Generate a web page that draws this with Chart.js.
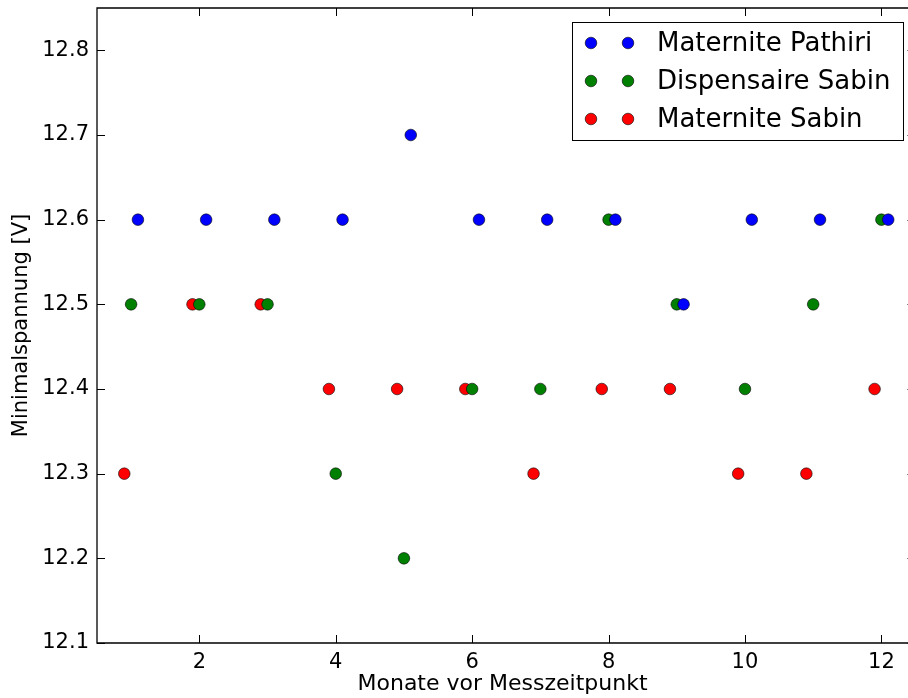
<!DOCTYPE html>
<html>
<head>
<meta charset="utf-8">
<title>Minimalspannung</title>
<script src="https://cdn.jsdelivr.net/npm/chart.js@4.4.1/dist/chart.umd.min.js"></script>
<style>
  html, body { margin: 0; padding: 0; background: #fff; overflow: hidden; }
  #chartWrap { width: 908px; height: 698px; }
</style>
</head>
<body>
<div id="chartWrap"><canvas id="voltChart" width="908" height="698"></canvas></div>
<script>
  // Data
  const pathiriX = [1.1, 2.1, 3.1, 4.1, 5.1, 6.1, 7.1, 8.1, 9.1, 10.1, 11.1, 12.1];
  const pathiriY = [12.6, 12.6, 12.6, 12.6, 12.7, 12.6, 12.6, 12.6, 12.5, 12.6, 12.6, 12.6];

  const dispSabinX = [1, 2, 3, 4, 5, 6, 7, 8, 9, 10, 11, 12];
  const dispSabinY = [12.5, 12.5, 12.5, 12.3, 12.2, 12.4, 12.4, 12.6, 12.5, 12.4, 12.5, 12.6];

  const matSabinX = [0.9, 1.9, 2.9, 3.9, 4.9, 5.9, 6.9, 7.9, 8.9, 9.9, 10.9, 11.9];
  const matSabinY = [12.3, 12.5, 12.5, 12.4, 12.4, 12.4, 12.3, 12.4, 12.4, 12.3, 12.3, 12.4];

  const seriesNames = ['Maternite Pathiri', 'Dispensaire Sabin', 'Maternite Sabin'];
  const seriesColors = ['#0000ff', '#008000', '#ff0000'];

  const xTickValues = [2, 4, 6, 8, 10, 12];
  const yTickValues = [12.1, 12.2, 12.3, 12.4, 12.5, 12.6, 12.7, 12.8];

  // the original axes run to 12.5 but the picture is cropped a little before that
  const xSpineRight = 12.5;
  const xVisibleMax = 12.39;

  const FONT = "'DejaVu Sans', 'Liberation Sans', sans-serif";

  function toPoints(xs, ys) {
    return xs.map((x, i) => ({ x: x, y: ys[i] }));
  }

  function makeDataset(idx, xs, ys) {
    return {
      label: seriesNames[idx],
      data: toPoints(xs, ys),
      backgroundColor: seriesColors[idx],
      borderColor: 'rgba(0,0,0,0.85)',
      borderWidth: 0.7,
      pointRadius: 5.8,
      pointHoverRadius: 5.8,
      showLine: false
    };
  }

  // matplotlib-style frame: inward ticks on all four sides
  const frameTicks = {
    id: 'frameTicks',
    afterDraw(chart) {
      const ctx = chart.ctx;
      const area = chart.chartArea;
      const xs = chart.scales.x;
      const ys = chart.scales.y;
      const rightPx = xs.getPixelForValue(xSpineRight);
      const len = 8;
      ctx.save();
      ctx.strokeStyle = '#000';
      ctx.lineWidth = 1;
      ctx.beginPath();
      xTickValues.forEach(v => {
        const px = Math.round(xs.getPixelForValue(v)) + 0.5;
        ctx.moveTo(px, area.bottom);
        ctx.lineTo(px, area.bottom - len);
        ctx.moveTo(px, area.top);
        ctx.lineTo(px, area.top + len);
      });
      yTickValues.forEach(v => {
        const py = Math.round(ys.getPixelForValue(v)) + 0.5;
        ctx.moveTo(area.left, py);
        ctx.lineTo(area.left + len, py);
        ctx.moveTo(rightPx, py);
        ctx.lineTo(rightPx - len, py);
      });
      ctx.stroke();

      ctx.lineWidth = 1.3;
      ctx.beginPath();
      ctx.moveTo(rightPx, area.top);
      ctx.lineTo(area.left, area.top);
      ctx.lineTo(area.left, area.bottom);
      ctx.lineTo(rightPx, area.bottom);
      ctx.stroke();
      ctx.restore();
    }
  };

  // legend with two markers per entry, like the original
  const pairLegend = {
    id: 'pairLegend',
    afterDraw(chart) {
      const ctx = chart.ctx;
      const box = { x: 572.5, y: 22.5, w: 331, h: 118 };
      const rowY = [43, 81, 119];
      ctx.save();
      ctx.fillStyle = '#fff';
      ctx.fillRect(box.x, box.y, box.w, box.h);
      ctx.strokeStyle = '#000';
      ctx.lineWidth = 1;
      ctx.strokeRect(box.x, box.y, box.w, box.h);
      chart.data.datasets.forEach((ds, i) => {
        const y = rowY[i];
        [591, 628].forEach(cx => {
          ctx.beginPath();
          ctx.arc(cx, y, 5.8, 0, Math.PI * 2);
          ctx.fillStyle = ds.backgroundColor;
          ctx.fill();
          ctx.lineWidth = 0.7;
          ctx.strokeStyle = 'rgba(0,0,0,0.85)';
          ctx.stroke();
        });
        ctx.fillStyle = '#000';
        ctx.font = '26px ' + FONT;
        ctx.textBaseline = 'middle';
        ctx.textAlign = 'left';
        ctx.fillText(ds.label, 657, y + 1);
      });
      ctx.restore();
    }
  };

  document.addEventListener('DOMContentLoaded', function() {
    const ctx = document.getElementById('voltChart').getContext('2d');
    new Chart(ctx, {
      type: 'scatter',
      data: {
        datasets: [
          makeDataset(0, pathiriX, pathiriY),
          makeDataset(1, dispSabinX, dispSabinY),
          makeDataset(2, matSabinX, matSabinY)
        ]
      },
      options: {
        responsive: false,
        animation: false,
        devicePixelRatio: 1,
        layout: { autoPadding: false, padding: { left: 0, top: 8, right: 0, bottom: 0 } },
        plugins: {
          legend: { display: false },
          tooltip: { enabled: false }
        },
        scales: {
          x: {
            type: 'linear',
            min: 0.5,
            max: xVisibleMax,
            grid: { display: false, drawTicks: false },
            border: { display: false },
            afterBuildTicks: scale => { scale.ticks = xTickValues.map(v => ({ value: v })); },
            afterFit: scale => {
              scale.height = 55;
              scale.paddingLeft = 0;
              scale.paddingRight = 0;
            },
            ticks: {
              color: '#000',
              padding: 7,
              maxRotation: 0,
              font: { family: FONT, size: 21 },
              callback: v => String(v)
            },
            title: {
              display: true,
              text: 'Monate vor Messzeitpunkt',
              color: '#000',
              font: { family: FONT, size: 22 },
              padding: { top: 0, bottom: 1 }
            }
          },
          y: {
            type: 'linear',
            min: 12.1,
            max: 12.85,
            grid: { display: false, drawTicks: false },
            border: { display: false },
            afterBuildTicks: scale => { scale.ticks = yTickValues.map(v => ({ value: v })); },
            afterFit: scale => {
              scale.width = 97;
              scale.paddingTop = 0;
              scale.paddingBottom = 0;
            },
            ticks: {
              color: '#000',
              padding: 8,
              font: { family: FONT, size: 21 },
              callback: v => Number(v).toFixed(1)
            },
            title: {
              display: true,
              text: 'Minimalspannung [V]',
              color: '#000',
              font: { family: FONT, size: 21 },
              padding: { top: 9, bottom: 0 }
            }
          }
        }
      },
      plugins: [frameTicks, pairLegend]
    });
  });
</script>
</body>
</html>
